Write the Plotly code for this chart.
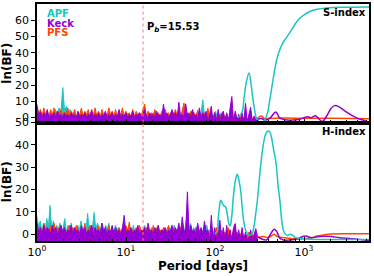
import numpy as np
import plotly.graph_objects as go
from plotly.subplots import make_subplots

# ---------------- data ----------------
P_PLANET = 15.53
FLOOR_S, TOP_S = -3, 70
FLOOR_H, TOP_H = -3, 50

# S-index, short-period (noisy) part, sampled on a log grid
apf_s_noise_end = 180
apf_s_noise = [2, -1, 1, -2, 0, -1, 2, -2, 1, 3,
               5, 2, 6, 3, 18.5, 4, 7, 2, 5, 1,
               -1, 1, -2, 0, 2, -1, 1, -2, 0, 1,
               -2, 2, -1, 0, 3, -2, 1, -1, 2, -2,
               0, 1, -2, 2, -1, 0, -2, 1, -1, 2,
               -2, 0, 1, -1, 2, -2, 0, 1, -2, 1,
               -1, 2, -2, 0, 3, -1, 1, -2, 2, -1,
               0, 2, -2, 1, 3, -1, 0, 2, -2, 1,
               3, 5.5, -1, 2, 4, -2, 1, 3, -1, 2,
               11, 1, -1, 3, 0, -2, 2, 4, -1, 1,
               3, -2, 0, 2, -1, 1, -2, 0, 1, 0]
keck_s_noise_end = 300
keck_s_noise = [8, 1, 4, 0, 3, 1, 5, 0, 2, 1,
                3, 0, 4, 1, 2, 0, 3, 1, 2, 0,
                3, 1, 2, -1, 4, 0, 2, 1, 3, 0,
                2, 1, 5, 0, 2, 1, 3, 0, 2, 1,
                4, 0, 2, 1, 3, 0, 2, 1, 5, 0,
                2, 1, 3, 0, 2, 1, 4, 0, 2, 1,
                3, 0, 2, 5, 1, 0, 3, 1, 2, 0,
                4, 1, 2, 0, 8.4, 1, 3, 0, 2, 5,
                1, 3, 0, 9.5, 1, 2, 0, 8.5, 1, 3,
                0, 5, 1, 2, -1, 6, 0, 3, 1, 4,
                -2.5, 2, 7, -2.5, 3, -2.5, 5, -2.5, 2, 4,
                -2.5, 3, -2.5, 6, 13, -2.5, 4, -2.5, 2, -2.5,
                3, -2.5, 8.8, -2.5, 2, 6.4, -2.5, 1, -2, -1]
pfs_s_noise_end = 300
pfs_s_noise = [7, 2, 5, 1, 6, 2, 4, 1, 5, 2,
               6, 1, 4, 2, 5, 1, 3, 2, 6, 1,
               4, 2, 5, 1, 3, 2, 6, 1, 4, 2,
               5, 1, 3, 2, 6, 1, 4, 0, 5, 2,
               3, 1, 6, 2, 4, 1, 5, 0, 3, 2,
               6, 1, 4, 2, 3, 0, 5, 1, 4, 2,
               3, 1, 5, 8.4, 1, 4, 0, 3, 2, 5,
               1, 3, 0, 4, 2, 5, 1, 3, 0, 4,
               2, 5, 1, 3, 0, 4, 9, 1, 3, 0,
               4, 1, 3, 0, 4.5, 1, 2, -1, 3, 0,
               5.8, -1, 2, 0, 3, -1, 1, 2, -1, 3,
               0, 1, -1, 2, 0, -1, 3, 0, -1, 1,
               -1, 0, 1, -1, 0, 2, -1, 0, -0.5, -0.5]

# S-index, long-period (smooth) part
apf_s_per = [180, 195, 205, 212, 225, 241, 255, 266, 280, 290, 310, 330, 360, 386, 410,
             441, 470, 502, 535, 571, 620, 677, 760, 880, 1050, 1235, 1500, 1910, 3000, 4930, 5400]
apf_s_val = [0, 2, 5, 12, 22, 27.5, 20, 12, 4, 0, -2.5, -3, -1.5, 2.3, 10,
             20.8, 30, 37.2, 42, 45.5, 48.5, 51.6, 56, 60.9, 64, 66, 67, 67.7, 68, 68.1, 68.1]
keck_s_per = [300, 330, 370, 420, 480, 530, 580, 650, 750, 900, 1000, 1100, 1200, 1350, 1480,
              1610, 1800, 2000, 2200, 2500, 2900, 3230, 3700, 4300, 5080, 5400]
keck_s_val = [-1, -0.5, -1.5, 0, 3.5, 0, -1, -1.5, -1.5, -1, 0, 0.5, 0, 1.2, -1,
              -2.3, 1, 5.5, 7.4, 6.5, 4, 2.3, 0.5, -1, -2.3, -2.5]
pfs_s_per = [300, 330, 360, 420, 600, 1000, 2000, 3500, 5400]
pfs_s_val = [-0.5, 1, -0.5, -0.5, -0.3, -0.4, -0.4, -0.5, -0.7]

# H-index, short-period (noisy) part
apf_h_noise_end = 100
apf_h_noise = [8, 3, 6, 1, 5, 2, 7, 3, 13, 2,
               6, 1, 4, 2, 5, 0, 3, 7, 1, 4,
               2, 5, 0, 3, 1, 4, 2, 6, 1, 3,
               2, 9.3, 1, 4, 3, 9.7, 2, 5, 1, 3,
               5, 1, 4, 2, 5, 0, 3, 1, 4, 2,
               3, 0, 2, 4, 1, 3, 0, 2, 1, 4,
               0, 2, 1, 3, 0, 2, 4, 1, 2, 0,
               3, 1, 2, 0, 4, 1, 2, 0, 3, 1,
               2, 0, 3, 1, 4, 0, 2, 1, 3, 5,
               1, 4, 9.3, 2, 5, 1, 3, 0, 3.3, 1,
               2, 0, 3, 1, 4, 0, 2, 3, 1, 0]
keck_h_noise_end = 300
keck_h_noise = [5, 1, 3, 0, 4, 1, 3, 2, 0, 4,
                1, 3, 0, 2, 4, 1, 3, 0, 2, 1,
                4, 0, 3, 1, 2, 0, 4, 1, 3, 0,
                2, 1, 4, 0, 3, 1, 2, 0, 5, 1,
                3, 0, 2, 1, 4, 0, 3, 1, 2, 0,
                3, 8.5, 0, 2, 1, 3, 0, 2, 1, 4,
                0, 2, 1, 3, 0, 5, 1, 2, 0, 3,
                1, 4, 0, 2, 1, 3, 0, 2, 1, 4,
                0, 3, 1, 5, 0, 7.8, 1, 2, 19, 0,
                4, 1, 2, 0, 5, 1, 3, 0, 6, 1,
                2, -2.5, 8.5, -2.5, 3, -2.5, 2, 6.3, -2.5, 3,
                -2.5, 4, -2.5, 2, -2.5, 3, 4.8, -2.5, 2, -2.5,
                3, -2.5, 1, -2.5, -2, 2, -2.5, 0, 2.5, -1]
pfs_h_noise_end = 300
pfs_h_noise = [4, 1, 3, 0, 5, 2, 3, 1, 4, 0,
               5, 1, 3, 2, 4, 0, 3, 1, 2, 4,
               0, 3, 1, 4, 2, 0, 3, 1, 5, 0,
               2, 4, 1, 3, 0, 2, 4, 1, 3, 0,
               2, 1, 4, 0, 3, 1, 2, 0, 3, 1,
               2, 0, 4, 1, 5.5, 0, 2, 1, 3, 0,
               4, 1, 2, 0, 3, 1, 2, 0, 4, 1,
               3, 0, 2, 1, 3, 0, 2, 4, 1, 0,
               3, 1, 2, 0, 3, 1, 2, 0, 3, 1,
               2, 0, 1, 3, 0, 2, 1, 0, 2, -1,
               1, -1, 2, 0, -1, 3, -1, 0, 2, -1,
               1, -1, 3, 0, -1, 2, -1, 1, -1, 0,
               1, -1, 0, -1, 1, -1, 0, -1, -1, -1.5]

# H-index, long-period (smooth) part
apf_h_per = [100, 103, 106, 108, 112, 116, 122, 128, 132, 137, 143, 146, 149, 153, 156, 160,
             163, 170, 178, 186, 195, 201, 206, 212, 218, 231, 245, 255, 262, 275, 286, 298,
             312, 326, 345, 365, 382, 397, 412, 430, 455, 488, 510, 538, 555, 572, 590, 613,
             650, 700, 750, 800, 1000, 1500, 2500, 5400]
apf_h_val = [0, 1, 1, 5.5, 12, 15.2, 13.5, 12.5, 12.2, 9, 4.8, 3.8, 4, 7, 10, 16,
             19, 24.5, 26.8, 24, 19, 13, 8.5, 5, 2.5, 0.3, -0.5, 0, 0.3, 4, 9, 14.5,
             23, 31, 39, 44, 45.8, 46.2, 45.8, 43.5, 38, 31, 22, 14.5, 8, 4, 1.5, 0.3,
             -0.5, 0, -0.5, -1.5, -2, -2.3, -2.3, -2.3]
keck_h_per = [300, 330, 380, 420, 460, 490, 530, 580, 700, 850, 970, 1050, 1200, 1500, 2000,
              2500, 3500, 5400]
keck_h_val = [-1, -2, -2.5, 0, 2.3, 1.5, -1.5, -2.5, -2.5, -2, -1, -0.8, -1.5, -1, -1,
              -1.5, -2, -2.8]
pfs_h_per = [300, 350, 400, 460, 500, 600, 800, 1000, 1200, 1400, 1700, 2000, 3000, 5400]
pfs_h_val = [-1.5, -1, -1.5, 0, -1, -1.5, -2, -2, -1.5, -0.8, -0.2, 0.1, 0.2, 0.2]

x_tick_vals = [1, 10, 100, 1000]
x_tick_text = ["10<sup>0</sup>", "10<sup>1</sup>", "10<sup>2</sup>", "10<sup>3</sup>"]
x_minor_vals = [m * d for d in (1, 10, 100, 1000) for m in range(2, 10)]
y_ticks_s = [0, 10, 20, 30, 40, 50, 60]
y_ticks_h = [0, 10, 20, 30, 40, 50]

# ---------------- style ----------------
C_APF = "#1cc3c3"
C_KECK = "#9400d3"
C_PFS = "#ff4500"
FONT = "DejaVu Sans"

fig = make_subplots(rows=2, cols=1, shared_xaxes=True, vertical_spacing=0)


def add_noise(vals, p_end, color, row, floor):
    per = np.geomspace(1, p_end, len(vals))
    fig.add_trace(go.Scatter(x=[per[0], per[-1]], y=[floor, floor], mode="lines",
                             line=dict(width=0, color=color), hoverinfo="skip",
                             showlegend=False), row=row, col=1)
    fig.add_trace(go.Scatter(x=per, y=vals, mode="lines", fill="tonexty",
                             fillcolor=color, line=dict(width=1, color=color),
                             showlegend=False), row=row, col=1)


def add_smooth(per, vals, color, row):
    fig.add_trace(go.Scatter(x=per, y=vals, mode="lines", line_shape="spline",
                             line=dict(width=1.5, color=color), showlegend=False),
                  row=row, col=1)


# S-index panel
add_noise(apf_s_noise, apf_s_noise_end, C_APF, 1, FLOOR_S)
add_noise(pfs_s_noise, pfs_s_noise_end, C_PFS, 1, FLOOR_S)
add_noise(keck_s_noise, keck_s_noise_end, C_KECK, 1, FLOOR_S)
add_smooth(pfs_s_per, pfs_s_val, C_PFS, 1)
add_smooth(keck_s_per, keck_s_val, C_KECK, 1)
add_smooth(apf_s_per, apf_s_val, C_APF, 1)

# H-index panel
add_noise(apf_h_noise, apf_h_noise_end, C_APF, 2, FLOOR_H)
add_noise(pfs_h_noise, pfs_h_noise_end, C_PFS, 2, FLOOR_H)
add_noise(keck_h_noise, keck_h_noise_end, C_KECK, 2, FLOOR_H)
add_smooth(pfs_h_per, pfs_h_val, C_PFS, 2)
add_smooth(keck_h_per, keck_h_val, C_KECK, 2)
add_smooth(apf_h_per, apf_h_val, C_APF, 2)

# planet period line
for r in (1, 2):
    fig.add_vline(x=P_PLANET, line=dict(color="#f47a7a", width=1, dash="dot"), row=r, col=1)

xaxis_common = dict(type="log", range=[0, 3.73], showline=True, linecolor="black",
                    linewidth=1.5, mirror=True, ticks="inside", ticklen=4, tickwidth=1,
                    tickcolor="black", tickvals=x_tick_vals, ticktext=x_tick_text,
                    minor=dict(tickvals=x_minor_vals, ticks="inside", ticklen=2.5,
                               tickcolor="black", showgrid=False),
                    showgrid=False, zeroline=False, automargin=False,
                    tickfont=dict(size=11, color="black"))
fig.update_xaxes(**xaxis_common)
fig.update_xaxes(showticklabels=False, row=1, col=1)
fig.update_xaxes(title=dict(text="<b>Period [days]</b>", font=dict(size=12, color="black"),
                            standoff=0), row=2, col=1)

yaxis_common = dict(showline=True, linecolor="black", linewidth=1.5, mirror=True,
                    ticks="outside", ticklen=4, tickcolor="black", showgrid=False,
                    zeroline=False, automargin=False, tickfont=dict(size=11, color="black"),
                    title=dict(text="<b>ln(BF)</b>", font=dict(size=12, color="black"),
                               standoff=1))
fig.update_yaxes(**yaxis_common)
fig.update_yaxes(range=[FLOOR_S, TOP_S], tickvals=y_ticks_s, domain=[0.5, 1], row=1, col=1)
fig.update_yaxes(range=[FLOOR_H, TOP_H], tickvals=y_ticks_h, domain=[0, 0.5], row=2, col=1)

annos = [
    dict(text="<b>APF</b>", x=0.025, y=0.92, color=C_APF),
    dict(text="<b>Keck</b>", x=0.025, y=0.838, color=C_KECK),
    dict(text="<b>PFS</b>", x=0.025, y=0.756, color=C_PFS),
]
for a in annos:
    fig.add_annotation(text=a["text"], x=a["x"], y=a["y"], xref="x domain", yref="y domain",
                       xanchor="left", yanchor="middle", showarrow=False,
                       font=dict(size=10, color=a["color"], family=FONT))
fig.add_annotation(text="<b>S-index</b>", x=0.997, y=0.925, xref="x domain", yref="y domain",
                   xanchor="right", yanchor="middle", showarrow=False,
                   font=dict(size=10, color="black", family=FONT))
fig.add_annotation(text="<b>H-index</b>", x=0.997, y=0.925, xref="x2 domain", yref="y2 domain",
                   xanchor="right", yanchor="middle", showarrow=False,
                   font=dict(size=10, color="black", family=FONT))
fig.add_annotation(text="<b>P<sub><i>b</i></sub>=15.53</b>", x=np.log10(P_PLANET), y=55.5,
                   xref="x", yref="y", xanchor="left", yanchor="middle", xshift=2,
                   showarrow=False, font=dict(size=10, color="black", family=FONT))

fig.update_layout(width=374, height=276, margin=dict(l=37, r=5, t=4, b=35),
                  plot_bgcolor="white", paper_bgcolor="white",
                  font=dict(family=FONT, color="black"), showlegend=False)

fig.write_html("out.html", config={"displayModeBar": False},
               post_script="document.body.style.margin='0';document.body.style.padding='0';")
